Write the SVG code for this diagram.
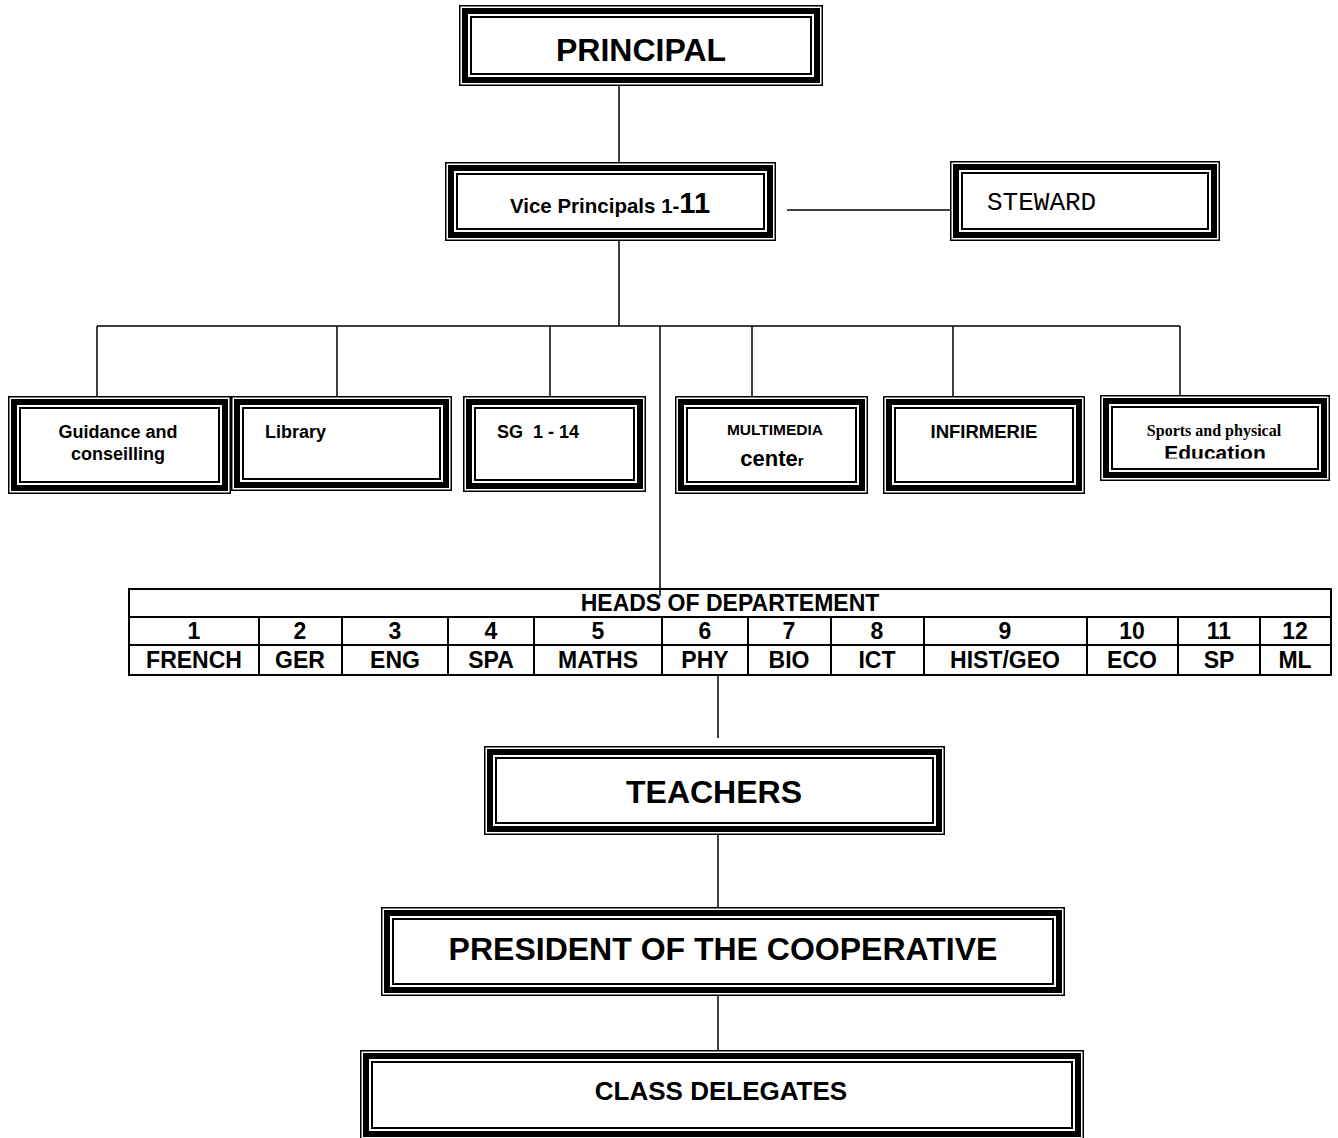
<svg xmlns="http://www.w3.org/2000/svg" width="1338" height="1138" viewBox="0 0 1338 1138">
  <style>
    .o { fill: #fff; stroke: #000; stroke-width: 1.5; }
    .t { fill: none; stroke: #000; stroke-width: 6; }
    .i { fill: none; stroke: #000; stroke-width: 2; }
    .ln { stroke: #000; stroke-width: 1.5; fill: none; }
    .s { font-family: "Liberation Sans", Arial, sans-serif; font-weight: bold; fill: #000; text-anchor: middle; }
    .l { text-anchor: start; }
    .grid { stroke: #000; stroke-width: 2; fill: none; }
    .tb { font-family: "Liberation Sans", Arial, sans-serif; font-weight: bold; font-size: 23px; fill: #000; text-anchor: middle; }
  </style>
  <defs>
    <clipPath id="eduClip"><rect x="1100" y="395" width="230" height="63.5"/></clipPath>
  </defs>
  <rect width="1338" height="1138" fill="#fff"/>

  <g id="connectors">
    <line class="ln" x1="619" y1="86" x2="619" y2="162"/>
    <line class="ln" x1="787" y1="210" x2="952" y2="210"/>
    <line class="ln" x1="619" y1="241" x2="619" y2="326"/>
    <line class="ln" x1="97" y1="326" x2="1180" y2="326"/>
    <line class="ln" x1="97" y1="326" x2="97" y2="397"/>
    <line class="ln" x1="337" y1="326" x2="337" y2="397"/>
    <line class="ln" x1="550" y1="326" x2="550" y2="397"/>
    <line class="ln" x1="660" y1="326" x2="660" y2="596"/>
    <line class="ln" x1="752" y1="326" x2="752" y2="397"/>
    <line class="ln" x1="953" y1="326" x2="953" y2="397"/>
    <line class="ln" x1="1180" y1="326" x2="1180" y2="396"/>
    <line class="ln" x1="718" y1="675" x2="718" y2="738"/>
    <line class="ln" x1="718" y1="835" x2="718" y2="909"/>
    <line class="ln" x1="718" y1="996" x2="718" y2="1051"/>
  </g>

  <g id="principal">
    <rect class="o" x="459.75" y="5.75" width="362.5" height="79.5"/>
    <rect class="t" x="465" y="11" width="352" height="69"/>
    <rect class="i" x="471" y="17" width="340" height="57"/>
    <text class="s" x="641" y="61" font-size="32">PRINCIPAL</text>
  </g>

  <g id="vice-principals">
    <rect class="o" x="445.75" y="162.75" width="329.5" height="77.5"/>
    <rect class="t" x="451" y="168" width="319" height="67"/>
    <rect class="i" x="457" y="174" width="307" height="55"/>
    <text class="s" x="610" y="213" font-size="20.5">Vice Principals 1-<tspan font-size="29">11</tspan></text>
  </g>

  <g id="steward">
    <rect class="o" x="950.75" y="161.75" width="268.5" height="78.5"/>
    <rect class="t" x="956" y="167" width="258" height="68"/>
    <rect class="i" x="962" y="173" width="246" height="56"/>
    <text x="987" y="210" font-family="Liberation Mono, Courier New, monospace" font-size="26" fill="#000">STEWARD</text>
  </g>

  <g id="guidance">
    <rect class="o" x="8.75" y="396.75" width="221.5" height="96.5"/>
    <rect class="t" x="14" y="402" width="211" height="86"/>
    <rect class="i" x="20" y="408" width="199" height="74"/>
    <text class="s" x="118" y="438" font-size="18">Guidance and</text>
    <text class="s" x="118" y="460" font-size="18">conseilling</text>
  </g>

  <g id="library">
    <rect class="o" x="231.75" y="396.75" width="219.5" height="93.5"/>
    <rect class="t" x="237" y="402" width="209" height="83"/>
    <rect class="i" x="243" y="408" width="197" height="71"/>
    <text class="s l" x="265" y="438" font-size="18">Library</text>
  </g>

  <g id="sg">
    <rect class="o" x="463.75" y="396.75" width="181.5" height="94.5"/>
    <rect class="t" x="469" y="402" width="171" height="84"/>
    <rect class="i" x="475" y="408" width="159" height="72"/>
    <text class="s l" x="497" y="438" font-size="18" xml:space="preserve">SG  1 - 14</text>
  </g>

  <g id="multimedia">
    <rect class="o" x="675.75" y="396.75" width="191.5" height="96.5"/>
    <rect class="t" x="681" y="402" width="181" height="86"/>
    <rect class="i" x="687" y="408" width="169" height="74"/>
    <text class="s" x="775" y="435" font-size="15.5">MULTIMEDIA</text>
    <text class="s" x="772" y="466" font-size="22">cente<tspan font-size="15">r</tspan></text>
  </g>

  <g id="infirmerie">
    <rect class="o" x="883.75" y="396.75" width="200.5" height="96.5"/>
    <rect class="t" x="889" y="402" width="190" height="86"/>
    <rect class="i" x="895" y="408" width="178" height="74"/>
    <text class="s" x="984" y="438" font-size="18.5">INFIRMERIE</text>
  </g>

  <g id="sports">
    <rect class="o" x="1100.75" y="395.75" width="228.5" height="84.5"/>
    <rect class="t" x="1106" y="401" width="218" height="74"/>
    <rect class="i" x="1112" y="407" width="206" height="62"/>
    <text x="1214" y="436" font-family="Liberation Serif, Times New Roman, serif" font-weight="bold" font-size="16" text-anchor="middle" fill="#000">Sports and physical</text>
    <text class="s" x="1215" y="460" font-size="21" clip-path="url(#eduClip)">Education</text>
  </g>

  <g id="heads-of-department">
    <rect class="grid" x="129" y="589" width="1202" height="86"/>
    <line class="grid" x1="129" y1="617" x2="1331" y2="617"/>
    <line class="grid" x1="129" y1="645" x2="1331" y2="645"/>
    <path class="grid" d="M259 617V675 M342 617V675 M448 617V675 M534 617V675 M662 617V675 M748 617V675 M831 617V675 M924 617V675 M1087 617V675 M1178 617V675 M1260 617V675"/>
    <text class="tb" x="730" y="611">HEADS OF DEPARTEMENT</text>
    <text class="tb" x="194" y="639">1</text>
    <text class="tb" x="300" y="639">2</text>
    <text class="tb" x="395" y="639">3</text>
    <text class="tb" x="491" y="639">4</text>
    <text class="tb" x="598" y="639">5</text>
    <text class="tb" x="705" y="639">6</text>
    <text class="tb" x="789" y="639">7</text>
    <text class="tb" x="877" y="639">8</text>
    <text class="tb" x="1005" y="639">9</text>
    <text class="tb" x="1132" y="639">10</text>
    <text class="tb" x="1219" y="639">11</text>
    <text class="tb" x="1295" y="639">12</text>
    <text class="tb" x="194" y="668">FRENCH</text>
    <text class="tb" x="300" y="668">GER</text>
    <text class="tb" x="395" y="668">ENG</text>
    <text class="tb" x="491" y="668">SPA</text>
    <text class="tb" x="598" y="668">MATHS</text>
    <text class="tb" x="705" y="668">PHY</text>
    <text class="tb" x="789" y="668">BIO</text>
    <text class="tb" x="877" y="668">ICT</text>
    <text class="tb" x="1005" y="668">HIST/GEO</text>
    <text class="tb" x="1132" y="668">ECO</text>
    <text class="tb" x="1219" y="668">SP</text>
    <text class="tb" x="1295" y="668">ML</text>
  </g>

  <g id="teachers">
    <rect class="o" x="484.75" y="746.75" width="459.5" height="87.5"/>
    <rect class="t" x="490" y="752" width="449" height="77"/>
    <rect class="i" x="496" y="758" width="437" height="65"/>
    <text class="s" x="714" y="803" font-size="32">TEACHERS</text>
  </g>

  <g id="president">
    <rect class="o" x="381.75" y="907.75" width="682.5" height="87.5"/>
    <rect class="t" x="387" y="913" width="672" height="77"/>
    <rect class="i" x="393" y="919" width="660" height="65"/>
    <text class="s" x="723" y="960" font-size="32">PRESIDENT OF THE COOPERATIVE</text>
  </g>

  <g id="class-delegates">
    <rect class="o" x="360.75" y="1050.75" width="722.5" height="88"/>
    <rect class="t" x="366" y="1056" width="712" height="78"/>
    <rect class="i" x="372" y="1062" width="700" height="66"/>
    <text class="s" x="721" y="1100" font-size="26">CLASS DELEGATES</text>
  </g>
</svg>
